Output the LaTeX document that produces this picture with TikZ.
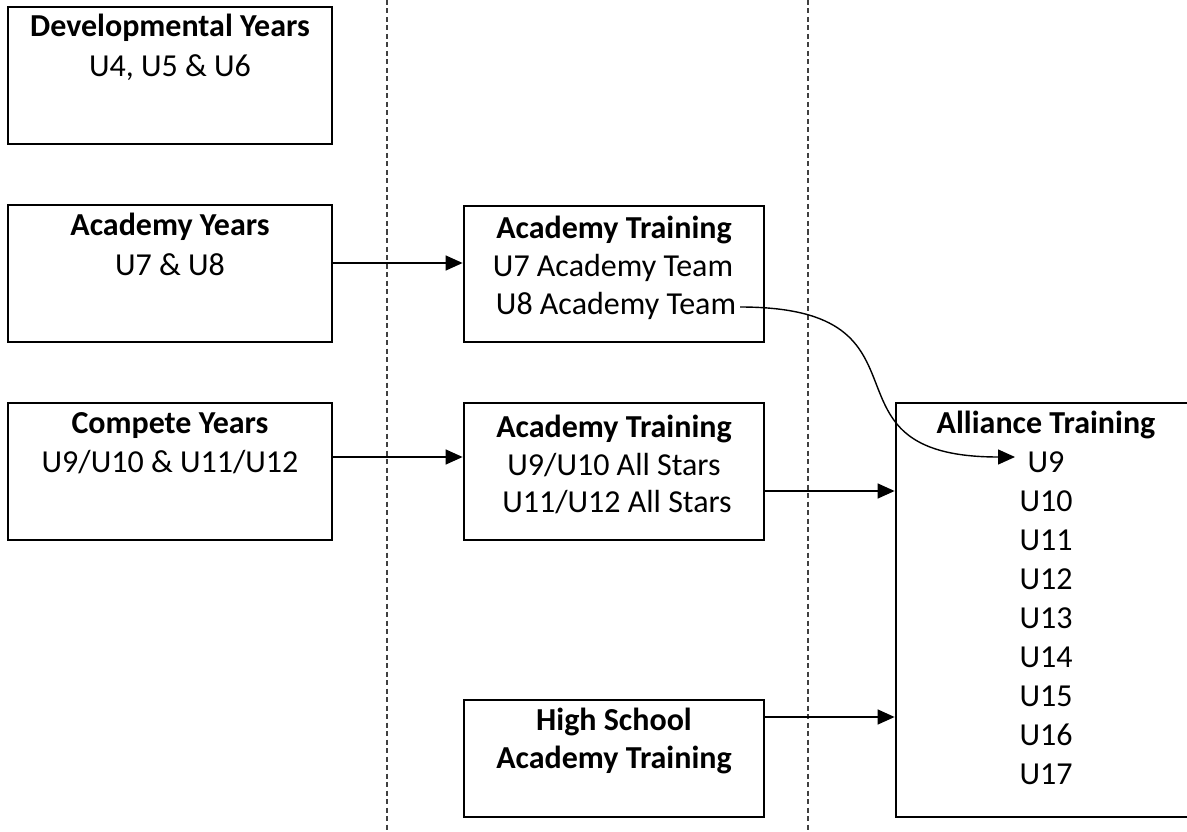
\documentclass[tikz,border=0pt]{standalone}
\usepackage{fontspec}
\setmainfont{Carlito}
\usetikzlibrary{arrows.meta}
\begin{document}
\begin{tikzpicture}[x=1pt,y=-1pt,
  box/.style={draw=black,line width=2.8pt,inner sep=0pt},
  txt/.style={anchor=base,inner sep=0pt,font=\fontsize{32}{39}\selectfont},
  ttl/.style={txt,font=\fontsize{32}{39}\selectfont\bfseries},
  conn/.style={line width=1.4pt,-{Triangle[length=17pt,width=15pt]}},
  sep/.style={draw=black!75,line width=1.2pt,dash pattern=on 5pt off 3.5pt}]
\useasboundingbox (0,0) rectangle (1187,832);
\clip (0,0) rectangle (1187,832);
% separators
\coordinate (s1t) at (387,0); \coordinate (s1b) at (387,832);
\coordinate (s2t) at (808,0); \coordinate (s2b) at (808,832);
\draw[sep] (s1t) -- (s1b);
\draw[sep] (s2t) -- (s2b);
% boxes
\node[box,minimum width=324pt,minimum height=137pt] (dev) at (170,75.5) {};
\node[box,minimum width=324pt,minimum height=137pt] (ay) at (170,273.5) {};
\node[box,minimum width=324pt,minimum height=137pt] (cy) at (170,471.5) {};
\node[box,minimum width=300pt,minimum height=136pt] (at1) at (614,274) {};
\node[box,minimum width=300pt,minimum height=137pt] (at2) at (614,471.5) {};
\node[box,minimum width=300pt,minimum height=117pt] (hs) at (614,758.5) {};
\node[box,minimum width=300pt,minimum height=414pt] (al) at (1046,610) {};
% texts
\node[ttl] (devT) at (170,37) {Developmental Years};
\node[txt] (devL) at (170,77) {U4, U5 \& U6};
\node[ttl] (ayT) at (170,236) {Academy Years};
\node[txt] (ayL) at (170,275) {U7 \& U8};
\node[ttl] (cyT) at (170,433) {Compete Years};
\node[txt] (cyL) at (170,472) {U9/U10 \& U11/U12};
\node[ttl] (at1T) at (614,238) {Academy Training};
\node[txt] (at1a) at (613,276) {U7 Academy Team};
\node[txt] (at1b) at (616,314) {U8 Academy Team};
\node[ttl] (at2T) at (614,437) {Academy Training};
\node[txt] (at2a) at (614,475) {U9/U10 All Stars};
\node[txt] (at2b) at (617,512) {U11/U12 All Stars};
\node[ttl] (hsT) at (614,730) {High School};
\node[ttl] (hsL) at (614,768) {Academy Training};
\node[ttl] (alT) at (1046,433) {Alliance Training};
\foreach \n [count=\i from 1] in {9,...,17}{
  \node[txt] (u\n) at (1046,{433+39*\i}) {U\n};
}
% connectors
\coordinate (ayA) at (ay.east |- 0,263);
\draw[conn] (ayA) -- (ayA -| at1.west);
\coordinate (cyA) at (cy.east |- 0,457);
\draw[conn] (cyA) -- (cyA -| at2.west);
\coordinate (at2A) at (at2.east |- 0,491);
\draw[conn] (at2A) -- (at2A -| al.west);
\coordinate (hsA) at (hs.east |- 0,717);
\draw[conn] (hsA) -- (hsA -| al.west);
\coordinate (c1) at (740,307);
\coordinate (c2) at (1015,457);
\draw[conn] (c1) to[out=0,in=180,looseness=1.7] (c2);
\end{tikzpicture}
\end{document}
